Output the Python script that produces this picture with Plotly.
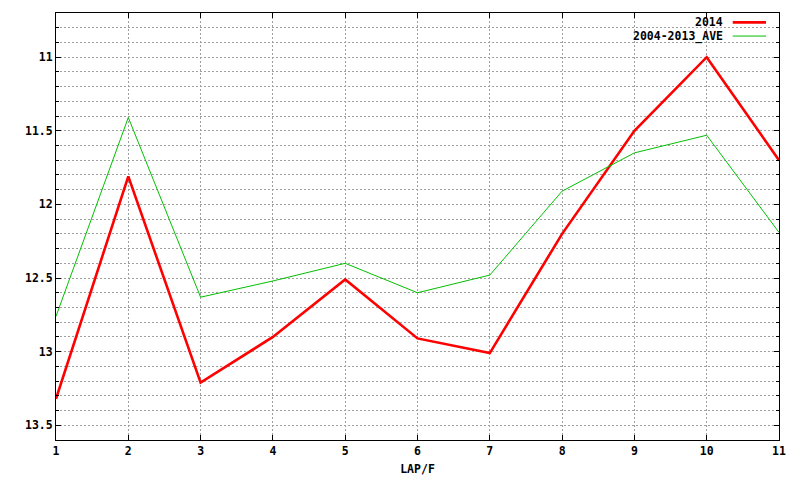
import plotly.graph_objects as go

laps = [1, 2, 3, 4, 5, 6, 7, 8, 9, 10, 11]
y2014 = [13.32, 11.81, 13.21, 12.90, 12.51, 12.91, 13.01, 12.20, 11.50, 11.00, 11.70]
ave = [12.76, 11.41, 12.63, 12.52, 12.40, 12.60, 12.48, 11.91, 11.65, 11.53, 12.19]
ytick_vals = [11, 11.5, 12, 12.5, 13, 13.5]
ytick_text = ["11", "11.5", "12", "12.5", "13", "13.5"]
series_names = ["2014", "2004-2013_AVE"]

FONT = dict(family="DejaVu Sans Mono", size=11.5, color="black")
RED = "#ff0000"
GREEN = "#00c000"
GRID = "#a0a0a0"
DASH = "2px,2px"

fig = go.Figure()
fig.add_trace(go.Scatter(x=laps, y=y2014, mode="lines", name=series_names[0],
                         line=dict(color=RED, width=2.6), showlegend=False))
fig.add_trace(go.Scatter(x=laps, y=ave, mode="lines", name=series_names[1],
                         line=dict(color=GREEN, width=1), showlegend=False))

fig.update_layout(
    width=800, height=480,
    margin=dict(l=56, r=21, t=13, b=40, autoexpand=False),
    paper_bgcolor="white", plot_bgcolor="white",
    font=FONT,
    hovermode=False,
    xaxis=dict(
        range=[1, 11], tickmode="linear", tick0=1, dtick=1,
        ticks="inside", ticklen=5, tickcolor="black", mirror="ticks",
        showline=True, linecolor="black", linewidth=1,
        showgrid=True, gridcolor=GRID, griddash=DASH, gridwidth=1,
        zeroline=False, automargin=False,
        title=dict(text="<b>LAP/F</b>", font=FONT, standoff=8),
        tickfont=FONT,
        tickprefix="<b>", ticksuffix="</b>",
    ),
    yaxis=dict(
        range=[13.6, 10.7],
        tickmode="array", tickvals=ytick_vals,
        ticktext=["<b>%s</b>" % t for t in ytick_text],
        ticks="inside", ticklen=5, tickcolor="black", mirror="ticks",
        showline=True, linecolor="black", linewidth=1,
        showgrid=True, gridcolor=GRID, griddash=DASH, gridwidth=1,
        zeroline=False, automargin=False,
        tickfont=FONT,
        minor=dict(dtick=0.1, tick0=10.7, ticks="inside", ticklen=3, tickcolor="black",
                   showgrid=True, gridcolor=GRID, griddash=DASH, gridwidth=1),
    ),
)

leg_y = [0.978, 0.946]
colors = [RED, GREEN]
widths = [2.6, 1]
for name, yy, c, w in zip(series_names, leg_y, colors, widths):
    fig.add_annotation(xref="paper", yref="paper", x=0.926, y=yy, text="<b>%s</b>" % name,
                       showarrow=False, xanchor="right", yanchor="middle", font=FONT)
    fig.add_shape(type="line", xref="paper", yref="paper", x0=0.936, x1=0.982, y0=yy, y1=yy,
                  line=dict(color=c, width=w))

fig.write_html("out.html", config={"displayModeBar": False},
               post_script="document.body.style.margin='0';document.body.style.padding='0';")
